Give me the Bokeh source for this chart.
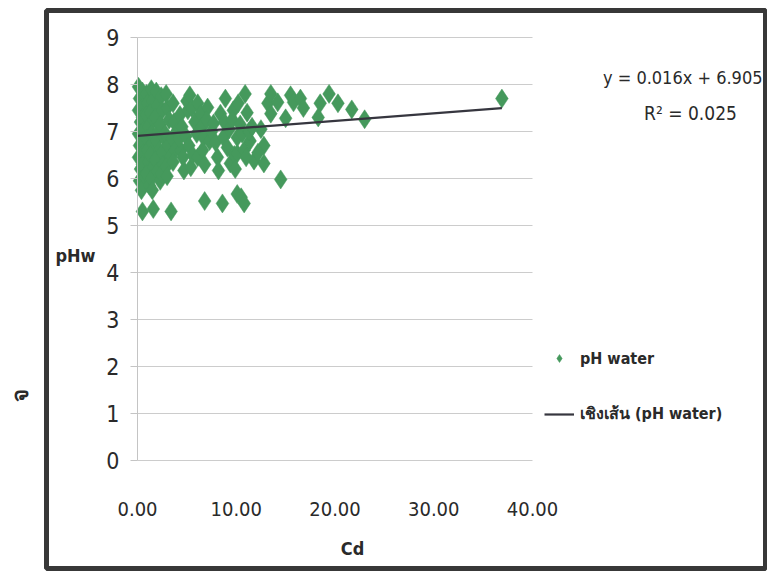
from bokeh.plotting import figure
from bokeh.models import (Range1d, FixedTicker, Label, BoxAnnotation, Legend, LegendItem,
                          ColumnDataSource, Grid)
from bokeh.embed import file_html
from bokeh.resources import INLINE

# ---- data ----
cd = [0.1, 0.2, 0.1, 0.3, 0.1, 0.2, 0.1, 0.3, 0.2, 0.4, 0.5,
      0.5, 0.6, 0.5, 0.7, 0.5, 0.6, 0.5, 0.7,
      0.9, 1.0, 0.9, 1.1, 0.9, 1.0, 1.1, 0.9, 1.2,
      1.4, 1.5, 1.3, 1.6, 1.4, 1.5, 1.3, 1.6, 1.4, 1.6, 1.5,
      1.9, 2.0, 1.8, 2.1, 1.9, 2.2, 1.8, 2.0, 2.3,
      2.4, 2.5, 2.3, 2.6, 2.5, 2.6, 2.4,
      2.9, 3.0, 3.2, 2.8, 3.1, 3.3, 2.9, 3.4, 3.0,
      3.6, 3.7, 3.5, 3.8, 3.6, 4.0,
      4.3, 4.5, 4.4, 4.7, 4.6, 4.2, 4.9, 5.1,
      5.0, 5.3, 5.5, 5.4, 5.2, 5.6, 5.8, 6.1, 6.1, 6.0,
      6.4, 6.5, 6.7, 6.6, 6.8, 6.8, 7.1, 7.0,
      7.3, 7.5, 7.7, 7.9, 8.1, 8.2, 8.4, 8.6, 8.7, 8.9,
      8.8, 9.1, 9.4, 9.3, 9.7, 9.8, 10.1, 10.1, 10.1, 10.5,
      10.8, 10.2, 9.6, 9.9, 10.4, 10.6, 10.8, 10.9, 11.1, 11.4,
      11.8, 11.0, 11.3, 11.6,
      12.8, 12.8, 12.2, 12.5, 13.2, 13.5, 13.5, 14.2, 14.5,
      15.0, 15.5, 15.8, 16.5, 16.8, 18.3, 18.5, 19.4, 20.3, 21.7, 23.0, 36.9]
ph = [7.95, 7.7, 7.45, 7.2, 6.95, 6.7, 6.45, 6.2, 5.95, 5.75, 5.3,
      7.85, 7.55, 7.3, 7.05, 6.8, 6.55, 6.3, 6.05,
      7.8, 7.6, 7.35, 7.1, 6.85, 6.6, 6.35, 6.1, 5.85,
      7.9, 7.65, 7.4, 7.25, 6.95, 6.75, 6.5, 6.25, 6.0, 5.35, 5.75,
      7.85, 7.55, 7.3, 7.0, 6.8, 6.6, 6.4, 6.15, 5.95,
      7.75, 7.45, 7.15, 6.9, 6.55, 6.3, 6.1,
      7.8, 7.5, 7.25, 6.95, 6.7, 6.45, 6.25, 5.3, 6.05,
      7.6, 7.2, 6.85, 6.6, 6.35, 7.0,
      7.35, 7.1, 6.6, 6.17, 6.45, 6.85, 6.9, 7.45,
      7.65, 7.77, 7.5, 6.24, 6.7, 6.5, 7.2, 7.6, 6.45, 6.95,
      7.38, 7.1, 6.87, 6.6, 6.3, 5.52, 7.51, 7.25,
      6.8, 7.0, 7.17, 6.77, 6.45, 6.17, 7.38, 5.47, 6.87, 7.7,
      7.2, 6.66, 6.32, 7.05, 7.45, 6.5, 6.87, 6.53, 5.67, 5.6,
      5.47, 7.6, 7.25, 6.2, 7.15, 6.95, 6.6, 7.8, 7.4, 6.8,
      6.38, 6.45, 7.0, 7.1,
      6.7, 6.32, 6.55, 7.05, 7.6, 7.38, 7.8, 7.62, 5.98,
      7.28, 7.77, 7.62, 7.7, 7.5, 7.3, 7.6, 7.8, 7.6, 7.47, 7.26, 7.7]

slope = 0.016
intercept = 6.905
trend_x = [0.0, 36.9]
trend_y = [intercept + slope * v for v in trend_x]

x_ticks = [0, 10, 20, 30, 40]
y_ticks = [0, 1, 2, 3, 4, 5, 6, 7, 8, 9]
x_tick_labels = {0: "0.00", 10: "10.00", 20: "20.00", 30: "30.00", 40: "40.00"}
x_min, x_max = 0, 40
y_min, y_max = 0, 9

FONT = "DejaVu Sans Condensed"
GREEN = "#45995c"
DARK = "#36363f"
TEXT = "#2a2a2a"

W, H = 767, 573
# frame covers the whole canvas; axes are pinned at x=0 / y=0
X0_PX, X40_PX = 137.0, 532.0      # canvas x of Cd=0 and Cd=40
Y0_PX, Y9_PX = 460.0, 37.0        # canvas y (from top) of pH=0 and pH=9
sx = (X40_PX - X0_PX) / (x_max - x_min)
sy = (Y0_PX - Y9_PX) / (y_max - y_min)
x_range = Range1d(-X0_PX / sx, (W - X0_PX) / sx)
y_range = Range1d(-(H - Y0_PX) / sy, y_max + Y9_PX / sy)

p = figure(width=W, height=H, output_backend="svg", toolbar_location=None,
           x_range=x_range, y_range=y_range,
           min_border_left=0, min_border_right=0, min_border_top=0, min_border_bottom=0)
p.outline_line_color = None
p.background_fill_color = "white"
p.border_fill_color = "white"

# axes
p.xaxis.fixed_location = 0
p.xaxis.bounds = (x_min, x_max)
p.xaxis.ticker = FixedTicker(ticks=x_ticks)
p.xaxis.major_label_overrides = x_tick_labels
p.xaxis.axis_line_color = None
p.xaxis.major_tick_line_color = None
p.xaxis.minor_tick_line_color = None
p.xaxis.major_label_standoff = 35
p.xaxis.major_label_text_font = FONT
p.xaxis.major_label_text_font_size = "20px"
p.xaxis.major_label_text_color = TEXT

p.yaxis.fixed_location = 0
p.yaxis.bounds = (y_min, y_max)
p.yaxis.ticker = FixedTicker(ticks=y_ticks)
p.yaxis.axis_line_color = "#c4c4c4"
p.yaxis.major_tick_line_color = "#c4c4c4"
p.yaxis.major_tick_out = 7
p.yaxis.major_tick_in = 0
p.yaxis.minor_tick_line_color = None
p.yaxis.major_label_standoff = 11
p.yaxis.major_label_text_font = FONT
p.yaxis.major_label_text_font_size = "23px"
p.yaxis.major_label_text_color = TEXT

p.xgrid.grid_line_color = None
p.ygrid.grid_line_color = None
if "cross_bounds" in Grid.properties():
    hgrid = Grid(dimension=1, ticker=FixedTicker(ticks=y_ticks), cross_bounds=(x_min, x_max),
                 grid_line_color="#cccccc", grid_line_width=1)
    p.add_layout(hgrid)
else:
    p.segment(x0=[x_min] * len(y_ticks), x1=[x_max] * len(y_ticks), y0=y_ticks, y1=y_ticks,
              line_color="#cccccc", line_width=1, level="underlay")

src = ColumnDataSource(dict(x=cd, y=ph))
pts = p.scatter("x", "y", source=src, marker="diamond", size=19,
                fill_color=GREEN, line_color=GREEN, line_width=0.5)
trend = p.line(trend_x, trend_y, line_color=DARK, line_width=2.2)

legend = Legend(items=[LegendItem(label="pH water", renderers=[pts]),
                       LegendItem(label="เชิงเส้น (pH water)", renderers=[trend])],
                location=(544, 147), orientation="vertical",
                border_line_color=None, background_fill_alpha=0,
                label_text_font=FONT, label_text_font_size="16px",
                label_text_color=TEXT, label_text_font_style="bold",
                glyph_width=30, glyph_height=20, label_height=20, spacing=33,
                padding=0, margin=0, label_standoff=6)
p.add_layout(legend)

txt = dict(x_units="screen", y_units="screen", text_font=FONT, text_color=TEXT,
           text_baseline="middle")
p.add_layout(Label(x=75, y=318, text="pHw", text_font_size="18px", text_font_style="bold",
                   text_align="center", **txt))
p.add_layout(Label(x=352, y=25, text="Cd", text_font_size="18px", text_font_style="bold",
                   text_align="center", **txt))
p.add_layout(Label(x=762, y=496, text="y = 0.016x + 6.905", text_font_size="18px",
                   text_align="right", **txt))
p.add_layout(Label(x=690, y=461, text="R² = 0.025", text_font_size="19px",
                   text_align="center", **txt))
p.add_layout(Label(x=20, y=178, text="จ", text_font_size="22px", text_font_style="bold",
                   angle=1.5708, text_align="center", **txt))

border = BoxAnnotation(left=46, right=765, bottom=5, top=563,
                       left_units="screen", right_units="screen",
                       top_units="screen", bottom_units="screen",
                       fill_alpha=0, line_color="#383838", line_alpha=1.0, line_width=5,
                       level="overlay")
p.add_layout(border)

open("out.html", "w").write(file_html(p, INLINE))
